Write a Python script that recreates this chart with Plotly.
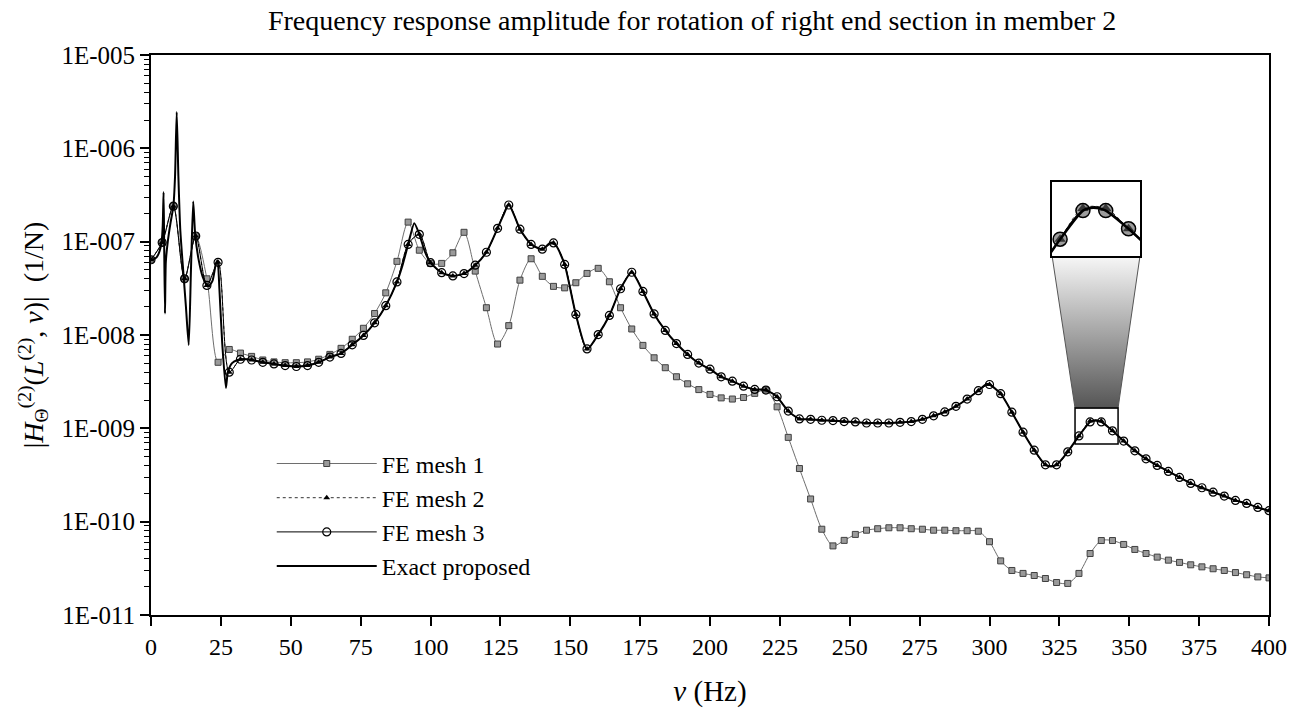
import plotly.graph_objects as go

# ---------------- data ----------------
freq_fe = [i * 4 for i in range(101)]  # FE sample frequencies 0..400 Hz, step 4

mesh1 = [6.4e-8, 9.8e-8, 2.4e-7, 4.0e-8, 1.15e-7, 4.0e-8, 5.1e-9, 7.0e-9, 6.4e-9, 5.9e-9,
         5.4e-9, 5.15e-9, 5.05e-9, 5.05e-9, 5.15e-9, 5.5e-9, 6.2e-9, 7.2e-9, 9.0e-9, 1.18e-8,
         1.7e-8, 2.83e-8, 6.15e-8, 1.62e-7, 8.1e-8, 5.85e-8, 5.85e-8, 7.6e-8, 1.26e-7, 4.84e-8,
         1.96e-8, 8.0e-9, 1.26e-8, 3.87e-8, 6.56e-8, 4.25e-8, 3.32e-8, 3.2e-8, 3.63e-8, 4.57e-8,
         5.18e-8, 3.72e-8, 1.96e-8, 1.16e-8, 7.74e-9, 5.7e-9, 4.46e-9, 3.57e-9, 3.0e-9, 2.6e-9,
         2.31e-9, 2.12e-9, 2.06e-9, 2.14e-9, 2.37e-9, 2.57e-9, 1.7e-9, 8.0e-10, 3.71e-10, 1.75e-10,
         8.3e-11, 5.5e-11, 6.3e-11, 7.3e-11, 8.1e-11, 8.4e-11, 8.6e-11, 8.6e-11, 8.4e-11, 8.3e-11,
         8.1e-11, 8.1e-11, 8.0e-11, 8.0e-11, 7.9e-11, 6.1e-11, 3.8e-11, 3.0e-11, 2.79e-11, 2.65e-11,
         2.46e-11, 2.23e-11, 2.18e-11, 2.79e-11, 4.56e-11, 6.28e-11, 6.28e-11, 5.7e-11, 5.04e-11, 4.56e-11,
         4.17e-11, 3.87e-11, 3.66e-11, 3.45e-11, 3.28e-11, 3.13e-11, 3.0e-11, 2.85e-11, 2.7e-11, 2.56e-11,
         2.5e-11]

mesh2 = [6.4e-8, 9.8e-8, 2.4e-7, 4.0e-8, 1.15e-7, 3.4e-8, 6.0e-8, 4.0e-9, 5.5e-9, 5.4e-9,
         5.1e-9, 4.9e-9, 4.7e-9, 4.6e-9, 4.7e-9, 5.1e-9, 5.8e-9, 6.35e-9, 7.85e-9, 9.9e-9,
         1.35e-8, 2.06e-8, 3.7e-8, 9.35e-8, 1.2e-7, 5.95e-8, 4.65e-8, 4.3e-8, 4.55e-8, 5.6e-8,
         7.7e-8, 1.39e-7, 2.47e-7, 1.36e-7, 9.35e-8, 8.3e-8, 9.7e-8, 5.7e-8, 1.66e-8, 7.1e-9,
         1.01e-8, 1.62e-8, 3.13e-8, 4.7e-8, 2.93e-8, 1.68e-8, 1.12e-8, 8.1e-9, 6.2e-9, 5.0e-9,
         4.3e-9, 3.56e-9, 3.2e-9, 2.83e-9, 2.61e-9, 2.57e-9, 2.18e-9, 1.53e-9, 1.26e-9, 1.25e-9,
         1.22e-9, 1.21e-9, 1.18e-9, 1.17e-9, 1.14e-9, 1.14e-9, 1.14e-9, 1.16e-9, 1.18e-9, 1.25e-9,
         1.36e-9, 1.5e-9, 1.72e-9, 2.06e-9, 2.53e-9, 2.95e-9, 2.35e-9, 1.49e-9, 9.1e-10, 5.83e-10,
         4.06e-10, 4.06e-10, 5.6e-10, 8.3e-10, 1.2e-9, 1.2e-9, 9.4e-10, 7.3e-10, 5.74e-10, 4.71e-10,
         4.0e-10, 3.45e-10, 2.98e-10, 2.57e-10, 2.31e-10, 2.07e-10, 1.88e-10, 1.69e-10, 1.57e-10, 1.42e-10,
         1.31e-10]

mesh3 = [6.4e-8, 9.8e-8, 2.4e-7, 4.0e-8, 1.15e-7, 3.4e-8, 6.0e-8, 4.0e-9, 5.5e-9, 5.4e-9,
         5.1e-9, 4.9e-9, 4.7e-9, 4.6e-9, 4.7e-9, 5.1e-9, 5.8e-9, 6.35e-9, 7.85e-9, 9.9e-9,
         1.35e-8, 2.06e-8, 3.7e-8, 9.35e-8, 1.2e-7, 5.95e-8, 4.65e-8, 4.3e-8, 4.55e-8, 5.6e-8,
         7.7e-8, 1.39e-7, 2.47e-7, 1.36e-7, 9.35e-8, 8.3e-8, 9.7e-8, 5.7e-8, 1.66e-8, 7.1e-9,
         1.01e-8, 1.62e-8, 3.13e-8, 4.7e-8, 2.93e-8, 1.68e-8, 1.12e-8, 8.1e-9, 6.2e-9, 5.0e-9,
         4.3e-9, 3.56e-9, 3.2e-9, 2.83e-9, 2.61e-9, 2.57e-9, 2.18e-9, 1.53e-9, 1.26e-9, 1.25e-9,
         1.22e-9, 1.21e-9, 1.18e-9, 1.17e-9, 1.14e-9, 1.14e-9, 1.14e-9, 1.16e-9, 1.18e-9, 1.25e-9,
         1.36e-9, 1.5e-9, 1.72e-9, 2.06e-9, 2.53e-9, 2.95e-9, 2.35e-9, 1.49e-9, 9.1e-10, 5.83e-10,
         4.06e-10, 4.06e-10, 5.6e-10, 8.3e-10, 1.17e-9, 1.17e-9, 9.4e-10, 7.3e-10, 5.74e-10, 4.71e-10,
         4.0e-10, 3.45e-10, 2.98e-10, 2.57e-10, 2.31e-10, 2.07e-10, 1.88e-10, 1.69e-10, 1.57e-10, 1.42e-10,
         1.31e-10]

freq_exact = [0, 1, 2, 3, 3.8, 4.2, 4.5, 4.7, 5.0, 5.3, 6, 7, 8, 8.6, 9.2, 9.8, 10.5, 11.5, 12.5,
              13.5, 14.3, 15.1, 15.8, 17, 18.5, 20.4, 22, 23.2, 23.8, 24.5, 25.5, 26.8, 27.5, 29,
              31, 34, 36, 40, 44, 48, 52, 56, 60, 64, 68, 72, 76, 80, 84, 88, 90, 92, 94.2, 96,
              98, 100, 104, 108, 112, 116, 120, 124, 126, 128, 130, 132, 136, 140, 143, 145, 148,
              152, 156, 160, 164, 168, 172, 176, 180, 184, 188, 192, 196, 200, 204, 208, 212, 216,
              219, 222, 224, 228, 232, 236, 240, 244, 248, 252, 256, 260, 264, 268, 272, 276, 280,
              284, 288, 292, 296, 299, 300, 304, 308, 312, 316, 320, 322, 324, 328, 332, 336, 338,
              340, 344, 348, 352, 356, 360, 364, 368, 372, 376, 380, 384, 388, 392, 396, 400]
exact = [6.4e-8, 6.5e-8, 6.8e-8, 7.8e-8, 1.0e-7, 1.5e-7, 3.4e-7, 1.0e-7, 1.7e-8, 6.0e-8, 1.0e-7,
         1.6e-7, 2.4e-7, 5.0e-7, 2.45e-6, 5.0e-7, 1.3e-7, 5.0e-8, 2.0e-8,
         7.8e-9, 5.0e-8, 2.7e-7, 1.2e-7, 6.5e-8, 4.2e-8, 3.3e-8, 3.8e-8, 5.8e-8, 6.3e-8, 3.0e-8,
         8.0e-9, 2.7e-9, 4.0e-9, 5.0e-9,
         5.4e-9, 5.5e-9, 5.4e-9, 5.1e-9, 4.9e-9, 4.7e-9, 4.6e-9, 4.7e-9, 5.1e-9, 5.8e-9, 6.35e-9,
         7.85e-9, 9.9e-9, 1.35e-8, 2.06e-8, 3.7e-8, 5.6e-8, 9.35e-8, 1.58e-7, 1.2e-7,
         7.8e-8, 5.95e-8, 4.65e-8, 4.3e-8, 4.55e-8, 5.6e-8, 7.7e-8, 1.39e-7, 1.9e-7, 2.5e-7,
         1.9e-7, 1.36e-7, 9.35e-8, 8.3e-8, 9.8e-8, 9.0e-8, 5.7e-8,
         1.66e-8, 7.0e-9, 1.01e-8, 1.62e-8, 3.13e-8, 4.7e-8, 2.93e-8, 1.68e-8, 1.12e-8, 8.1e-9,
         6.2e-9, 5.0e-9, 4.3e-9, 3.56e-9, 3.2e-9, 2.83e-9, 2.61e-9,
         2.6e-9, 2.4e-9, 2.18e-9, 1.53e-9, 1.26e-9, 1.25e-9, 1.22e-9, 1.21e-9, 1.18e-9, 1.17e-9,
         1.14e-9, 1.14e-9, 1.14e-9, 1.16e-9, 1.18e-9, 1.25e-9, 1.36e-9,
         1.5e-9, 1.72e-9, 2.06e-9, 2.53e-9, 2.98e-9, 2.95e-9, 2.35e-9, 1.49e-9, 9.1e-10, 5.83e-10,
         4.06e-10, 3.9e-10, 4.06e-10, 5.6e-10, 8.3e-10, 1.17e-9, 1.22e-9,
         1.17e-9, 9.4e-10, 7.3e-10, 5.74e-10, 4.71e-10, 4.0e-10, 3.45e-10, 2.98e-10, 2.57e-10,
         2.31e-10, 2.07e-10, 1.88e-10, 1.69e-10, 1.57e-10, 1.42e-10, 1.31e-10]

x_ticks = list(range(0, 401, 25))
y_tickvals = [1e-11, 1e-10, 1e-9, 1e-8, 1e-7, 1e-6, 1e-5]
y_ticktext = ["1E-011", "1E-010", "1E-009", "1E-008", "1E-007", "1E-006", "1E-005"]

# zoom window shown in the inset (Hz, log10 of amplitude)
zoom_x = [330.6, 346.0]
zoom_logy = [-9.169, -8.783]

# ---------------- layout geometry ----------------
FONT = "Liberation Serif"
inset_dom_x = [0.806, 0.8846]
inset_dom_y = [0.641, 0.773]
y_log_range = [-11, -5]
x_range = [0, 400]

fig = go.Figure()

# main traces
fig.add_trace(go.Scatter(
    x=freq_fe, y=mesh1, name="FE mesh 1", mode="lines+markers",
    line=dict(color="#6e6e6e", width=1, shape="spline", smoothing=0.8),
    marker=dict(symbol="square", size=6, color="#9a9a9a", line=dict(color="#404040", width=1))))
fig.add_trace(go.Scatter(
    x=freq_fe, y=mesh2, name="FE mesh 2", mode="lines+markers",
    line=dict(color="#333333", width=1, dash="dot", shape="spline", smoothing=0.8),
    marker=dict(symbol="triangle-up", size=6, color="black")))
fig.add_trace(go.Scatter(
    x=freq_fe, y=mesh3, name="FE mesh 3", mode="lines+markers",
    line=dict(color="black", width=1, shape="spline", smoothing=0.8),
    marker=dict(symbol="circle-open", size=8, color="black", line=dict(width=1.2))))
fig.add_trace(go.Scatter(
    x=freq_exact, y=exact, name="Exact proposed", mode="lines",
    line=dict(color="black", width=2, shape="spline", smoothing=0.6)))

# gradient connector between zoom window and inset (overlay axes in plot fractions)
def yfrac(logv):
    return (logv - y_log_range[0]) / (y_log_range[1] - y_log_range[0])

def xfrac(v):
    return (v - x_range[0]) / (x_range[1] - x_range[0])

trap_x = [xfrac(zoom_x[0]), xfrac(zoom_x[1]), inset_dom_x[1], inset_dom_x[0], xfrac(zoom_x[0])]
trap_y = [yfrac(zoom_logy[1]), yfrac(zoom_logy[1]), inset_dom_y[0], inset_dom_y[0], yfrac(zoom_logy[1])]
fig.add_trace(go.Scatter(
    x=trap_x, y=trap_y, xaxis="x3", yaxis="y3", mode="lines", fill="toself",
    line=dict(color="#555555", width=1),
    fillgradient=dict(type="vertical", colorscale=[[0, "#555555"], [1, "#f7f7f7"]]),
    showlegend=False, hoverinfo="skip"))

# inset traces
fig.add_trace(go.Scatter(
    x=freq_fe, y=mesh2, xaxis="x2", yaxis="y2", mode="lines+markers", showlegend=False,
    line=dict(color="#333333", width=1, dash="dot", shape="spline"),
    marker=dict(symbol="triangle-up", size=10, color="black")))
fig.add_trace(go.Scatter(
    x=freq_fe, y=mesh3, xaxis="x2", yaxis="y2", mode="lines+markers", showlegend=False,
    line=dict(color="black", width=1.5, shape="spline"),
    marker=dict(symbol="circle", size=14, color="rgba(90,90,90,0.6)", line=dict(color="black", width=1.5))))
fig.add_trace(go.Scatter(
    x=freq_exact, y=exact, xaxis="x2", yaxis="y2", mode="lines", showlegend=False,
    line=dict(color="black", width=2.5, shape="spline", smoothing=0.6)))

# zoom window rectangle
fig.add_shape(type="rect", xref="x", yref="y",
              x0=zoom_x[0], x1=zoom_x[1], y0=10 ** zoom_logy[0], y1=10 ** zoom_logy[1],
              line=dict(color="black", width=1.5), fillcolor="rgba(0,0,0,0)", layer="above")

minor_vals = [k * 10 ** e for e in range(-11, -5) for k in range(2, 10)]

fig.update_layout(
    width=1301, height=717,
    margin=dict(l=151, r=32, t=55, b=102),
    paper_bgcolor="white", plot_bgcolor="white",
    font=dict(family=FONT, size=25, color="black"),
    title=dict(text="Frequency response amplitude for rotation of right end section in member 2",
               x=0.484, xref="paper", xanchor="center", y=0.972, yanchor="middle",
               font=dict(family=FONT, size=28, color="black")),
    xaxis=dict(range=x_range, tickvals=x_ticks, ticks="outside", ticklen=9, tickwidth=1.5,
               tickcolor="black", showgrid=False, zeroline=False, showline=True, linecolor="black",
               linewidth=2, mirror=True, tickfont=dict(family=FONT, size=24),
               title=dict(text="<i>ν</i> (Hz)", font=dict(family=FONT, size=29), standoff=22)),
    yaxis=dict(type="log", range=y_log_range, tickvals=y_tickvals, ticktext=y_ticktext,
               ticks="outside", ticklen=9, tickwidth=1.5, tickcolor="black", showgrid=False,
               zeroline=False, showline=True, linecolor="black", linewidth=2, mirror=True,
               tickfont=dict(family=FONT, size=25),
               minor=dict(tickvals=minor_vals, ticks="outside", ticklen=5, tickcolor="black",
                          tickwidth=1, showgrid=False),
               title=dict(text="|<i>H</i><sub>Θ</sub><sup>(2)</sup>(<i>L</i><sup>(2)</sup>, <i>ν</i>)|  (1/N)",
                          font=dict(family=FONT, size=28), standoff=10)),
    xaxis2=dict(domain=inset_dom_x, anchor="y2", range=zoom_x, showticklabels=False, ticks="",
                showgrid=False, zeroline=False, showline=True, mirror=True, linecolor="black",
                linewidth=1.5),
    yaxis2=dict(domain=inset_dom_y, anchor="x2", type="log", range=zoom_logy, showticklabels=False,
                ticks="", showgrid=False, zeroline=False, showline=True, mirror=True,
                linecolor="black", linewidth=1.5),
    xaxis3=dict(domain=[0, 1], anchor="y3", overlaying="x", range=[0, 1], visible=False),
    yaxis3=dict(domain=[0, 1], anchor="x3", overlaying="y", range=[0, 1], visible=False),
    legend=dict(x=0.108, y=0.31, xanchor="left", yanchor="top", bgcolor="rgba(255,255,255,0)",
                font=dict(family=FONT, size=24), itemwidth=100, tracegroupgap=0),
    showlegend=True,
)

fig.write_html("out.html")
